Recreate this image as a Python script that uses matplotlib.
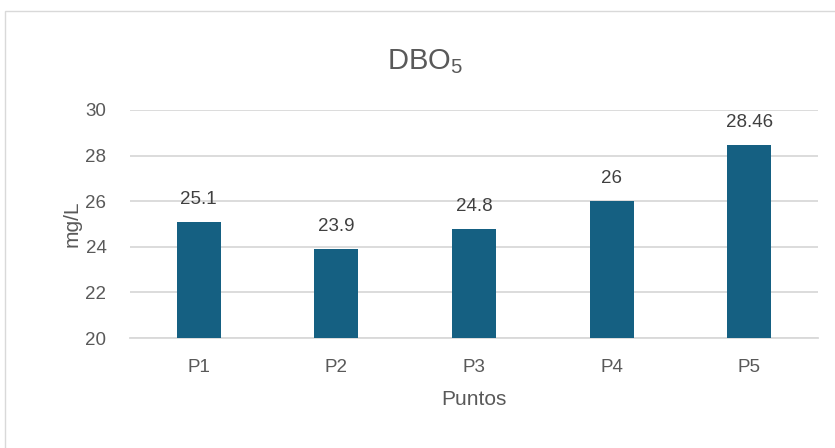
import matplotlib
matplotlib.use("Agg")
import matplotlib.pyplot as plt
from matplotlib.patches import Rectangle

# ── Data ──────────────────────────────────────────────────────────────────────
puntos = ["P1", "P2", "P3", "P4", "P5"]
dbo5 = [25.1, 23.9, 24.8, 26, 28.46]
etiquetas = ["25.1", "23.9", "24.8", "26", "28.46"]
y_ticks = [20, 22, 24, 26, 28, 30]

BAR = "#156082"
TEXT = "#595959"
GRID = "#d9d9d9"

plt.rcParams["font.family"] = ["Liberation Sans", "DejaVu Sans"]
plt.rcParams["mathtext.default"] = "regular"

fig = plt.figure(figsize=(8.35, 4.48), dpi=100)
ax = fig.add_axes([0.1557, 0.2455, 0.8239, 0.509])

# chart-area border (Excel style)
fig.patches.append(Rectangle((5 / 835, -0.1), 1.1, 1 - 11 / 448 + 0.1,
                             transform=fig.transFigure, fill=False,
                             edgecolor=GRID, linewidth=1.0))

x = range(len(puntos))
ax.bar(x, dbo5, width=0.32, color=BAR, zorder=3)

for xi, v, lab in zip(x, dbo5, etiquetas):
    ax.annotate(lab, (xi, v), xytext=(0, 10), textcoords="offset points",
                ha="center", va="bottom", fontsize=13.5, color="#404040")

ax.set_xlim(-0.5, len(puntos) - 0.5)
ax.set_ylim(20, 30)
ax.set_yticks(y_ticks)
ax.set_xticks(list(x))
ax.set_xticklabels(puntos)
ax.yaxis.grid(True, color=GRID, linewidth=1.3, zorder=0)
ax.tick_params(axis="both", length=0, labelsize=13.5, labelcolor=TEXT)
ax.tick_params(axis="x", pad=15)
ax.tick_params(axis="y", pad=17)
for s in ["top", "right", "left"]:
    ax.spines[s].set_visible(False)
ax.spines["bottom"].set_color(GRID)
ax.spines["bottom"].set_linewidth(1.3)

ax.set_xlabel("Puntos", fontsize=15, color=TEXT, labelpad=10)
ax.set_ylabel("mg/L", fontsize=15, color=TEXT, labelpad=3)
fig.text(0.509, 0.862, "DBO$_5$", ha="center", va="center",
         fontsize=21, color=TEXT)

fig.savefig("out.png", dpi=100)
